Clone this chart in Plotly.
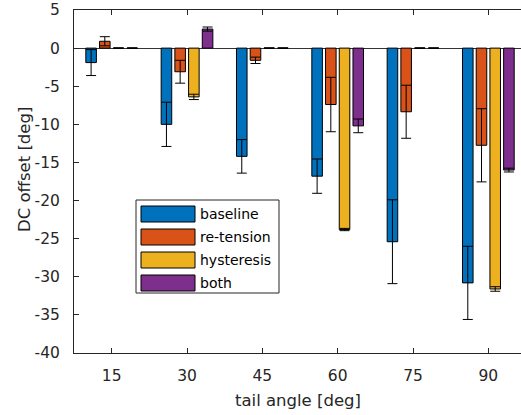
import plotly.graph_objects as go

angles = [15, 30, 45, 60, 75, 90]
series_names = ["baseline", "re-tension", "hysteresis", "both"]
colors = ["#0072BD", "#D95319", "#EDB120", "#7E2F8E"]

baseline = [-1.9, -10.0, -14.2, -16.8, -25.4, -30.8]
baseline_err = [1.7, 2.9, 2.2, 2.25, 5.5, 4.8]
retension = [0.9, -3.1, -1.6, -7.4, -8.35, -12.75]
retension_err = [0.6, 1.5, 0.42, 3.57, 3.48, 4.8]
hysteresis = [0.0, -6.4, 0.0, -23.8, 0.0, -31.6]
hysteresis_err = [0.0, 0.35, 0.0, 0.15, 0.0, 0.3]
both = [0.0, 2.5, 0.0, -10.2, 0.0, -16.0]
both_err = [0.0, 0.27, 0.0, 0.9, 0.0, 0.25]

values = [baseline, retension, hysteresis, both]
errors = [baseline_err, retension_err, hysteresis_err, both_err]

y_ticks = list(range(-40, 6, 5))
y_ticktext = [str(v) if v >= 0 else "-" + str(-v) for v in y_ticks]

x_title = "tail angle [deg]"
y_title = "DC offset [deg]"

W, H = 521, 415
ML, MT, MB, MR = 74, 10, 62, 0
PW, PH = W - ML - MR, H - MT - MB
axis_col = "#262626"
font_fam = "DejaVu Sans, Liberation Sans, Arial, sans-serif"

fig = go.Figure()
for name, vals, errs, col in zip(series_names, values, errors, colors):
    fig.add_trace(go.Bar(
        x=angles, y=vals, name=name,
        marker=dict(color=col, line=dict(color="#000000", width=1)),
        error_y=dict(type="data", array=errs, visible=True,
                     color="#000000", thickness=1, width=5),
        showlegend=False,
    ))

def px2paper_x(px):
    return (px - ML) / PW

def px2paper_y(py):
    return (H - MB - py) / PH

# custom MATLAB-like legend (box, long swatches, text)
shapes = [dict(type="rect", xref="paper", yref="paper",
               x0=px2paper_x(136), x1=px2paper_x(279),
               y0=px2paper_y(293), y1=px2paper_y(200),
               line=dict(color=axis_col, width=1), fillcolor="white", layer="above")]
annotations = []
row_y = [214, 237, 260, 283]
for name, col, ry in zip(series_names, colors, row_y):
    shapes.append(dict(type="rect", xref="paper", yref="paper",
                       x0=px2paper_x(141), x1=px2paper_x(195),
                       y0=px2paper_y(ry + 8), y1=px2paper_y(ry - 8),
                       line=dict(color="#000000", width=1), fillcolor=col, layer="above"))
    annotations.append(dict(xref="paper", yref="paper", x=px2paper_x(198), y=px2paper_y(ry),
                            text=name, showarrow=False, xanchor="left", yanchor="middle",
                            font=dict(size=14, color="#000000", family=font_fam)))

# axis titles
annotations.append(dict(xref="paper", yref="paper", x=px2paper_x(298), y=px2paper_y(400),
                        text=x_title, showarrow=False, xanchor="center", yanchor="middle",
                        font=dict(size=16.5, color=axis_col, family=font_fam)))
annotations.append(dict(xref="paper", yref="paper", x=px2paper_x(24), y=px2paper_y(170),
                        text=y_title, showarrow=False, xanchor="center", yanchor="middle",
                        textangle=-90,
                        font=dict(size=16.5, color=axis_col, family=font_fam)))

fig.update_layout(
    width=W, height=H,
    margin=dict(l=ML, r=MR, t=MT, b=MB, pad=0),
    paper_bgcolor="white", plot_bgcolor="white",
    barmode="group", bargap=0.272, bargroupgap=0.23,
    font=dict(family=font_fam, size=15, color=axis_col),
    shapes=shapes, annotations=annotations,
    xaxis=dict(range=[7.5, 96.5], tickvals=angles, ticktext=[str(a) for a in angles],
               ticks="inside", ticklen=5, tickcolor=axis_col, tickwidth=1,
               showline=True, linecolor=axis_col, linewidth=1, mirror="ticks",
               showgrid=False, zeroline=False,
               tickfont=dict(size=15.5, color=axis_col), ticklabelstandoff=8),
    yaxis=dict(range=[-40, 5], tickvals=y_ticks, ticktext=y_ticktext,
               ticks="inside", ticklen=5, tickcolor=axis_col, tickwidth=1,
               showline=True, linecolor=axis_col, linewidth=1, mirror=False,
               showgrid=False, zeroline=True, zerolinecolor="#333333", zerolinewidth=1,
               tickfont=dict(size=15.5, color=axis_col), ticklabelstandoff=10),
)

fig.write_html("out.html")
